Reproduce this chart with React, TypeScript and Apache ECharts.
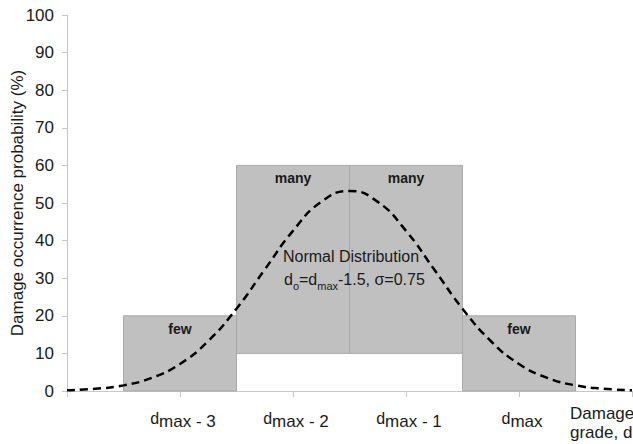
import React, { useEffect, useRef } from "react";
import * as echarts from "echarts";

// Grade positions: 1 = dmax-3, 2 = dmax-2, 3 = dmax-1, 4 = dmax
const tickLabels = ["", "dmax - 3", "dmax - 2", "dmax - 1", "dmax", ""];

// Boxes (damage occurrence ranges)
const boxStart = [0.5, 1.5, 2.5, 3.5];
const boxEnd = [1.5, 2.5, 3.5, 4.5];
const boxLow = [0, 10, 10, 0];
const boxHigh = [20, 60, 60, 20];
const boxLabel = ["few", "many", "many", "few"];

// Normal distribution curve
const curveX = [0, 0.25, 0.5, 0.75, 1, 1.25, 1.5, 1.75, 2, 2.25, 2.5, 2.75, 3, 3.25, 3.5, 3.75, 4, 4.25, 4.5, 4.75, 5];
const curveY = [0.2, 0.6, 1.5, 3.5, 7.2, 13.3, 21.9, 32.3, 42.6, 50.3, 53.2, 50.3, 42.6, 32.3, 21.9, 13.3, 7.2, 3.5, 1.5, 0.6, 0.2];

const FONT = "Arial, 'Liberation Sans', sans-serif";
const TXT = "#1a1a1a";

export default function App() {
  const ref = useRef<HTMLDivElement>(null);
  useEffect(() => {
    if (!ref.current) return;
    const chart = echarts.init(ref.current, null, { renderer: "svg" });
    const boxData = boxStart.map((s, i) => [s, boxEnd[i], boxLow[i], boxHigh[i], i]);
    chart.setOption({
      animation: false,
      backgroundColor: "#ffffff",
      grid: { left: 67, right: 1, top: 15, bottom: 53, containLabel: false, outerBoundsMode: "none" },
      xAxis: {
        type: "value",
        min: 0,
        max: 5,
        interval: 1,
        axisLine: { show: true, lineStyle: { color: "#c8c8c8", width: 1 } },
        axisTick: { show: true, length: 6, lineStyle: { color: "#c8c8c8" } },
        splitLine: { show: false },
        axisLabel: {
          margin: 19,
          color: TXT,
          fontSize: 16,
          fontFamily: FONT,
          formatter: (v: number) => {
            const t = tickLabels[Math.round(v)] || "";
            if (!t) return "";
            return "{d|d}{m|" + t.slice(1) + "}";
          },
          rich: {
            d: { fontSize: 16, fontFamily: FONT, color: TXT, padding: [0, 0, 3, 6] },
            m: { fontSize: 17, fontFamily: FONT, color: TXT, padding: [3, 0, 0, 0] },
          },
        },
      },
      yAxis: {
        type: "value",
        min: 0,
        max: 100,
        interval: 10,
        axisLine: { show: true, lineStyle: { color: "#c8c8c8", width: 1 } },
        axisTick: { show: true, length: 5, lineStyle: { color: "#c8c8c8" } },
        splitLine: { show: false },
        axisLabel: { margin: 13, color: TXT, fontSize: 17, fontFamily: FONT },
      },
      series: [
        {
          type: "custom",
          data: boxData,
          encode: { x: [0, 1], y: [2, 3] },
          renderItem: (params: any, api: any) => {
            const x0 = api.value(0), x1 = api.value(1), y0 = api.value(2), y1 = api.value(3);
            const idx = api.value(4);
            const p0 = api.coord([x0, y1]);
            const p1 = api.coord([x1, y0]);
            return {
              type: "group",
              children: [
                {
                  type: "rect",
                  shape: { x: p0[0], y: p0[1], width: p1[0] - p0[0], height: p1[1] - p0[1] },
                  style: { fill: "#c0c0c0", stroke: "#a9a9a9", lineWidth: 1 },
                },
                {
                  type: "text",
                  x: (p0[0] + p1[0]) / 2,
                  y: p0[1] + 13,
                  style: {
                    text: boxLabel[idx],
                    fill: TXT,
                    font: "bold 14px " + FONT,
                    align: "center",
                    verticalAlign: "middle",
                  },
                },
              ],
            };
          },
          z: 1,
        },
        {
          type: "line",
          data: curveX.map((x, i) => [x, curveY[i]]),
          smooth: true,
          symbol: "none",
          lineStyle: { color: "#000000", width: 2.5, type: [8, 5] },
          z: 3,
        },
      ],
      graphic: [
        {
          type: "text",
          x: 17,
          y: 203,
          rotation: Math.PI / 2,
          style: {
            text: "Damage occurrence probability (%)",
            fill: TXT,
            font: "17px " + FONT,
            align: "center",
            verticalAlign: "middle",
          },
          z: 10,
        },
        {
          type: "text",
          left: 283,
          top: 248,
          style: { text: "Normal Distribution", fill: TXT, font: "16px " + FONT },
          z: 10,
        },
        {
          type: "text",
          left: 284,
          top: 271,
          style: {
            text: "{n|d}{s|o}{n|=d}{s|max}{n|-1.5, σ=0.75}",
            rich: {
              n: { fontSize: 16, fontFamily: FONT, fill: TXT, color: TXT, lineHeight: 20, verticalAlign: "top" },
              s: { fontSize: 11, fontFamily: FONT, fill: TXT, color: TXT, lineHeight: 20, padding: [9, 0, 0, 0], verticalAlign: "top" },
            },
          },
          z: 10,
        },
        {
          type: "text",
          left: 570,
          top: 404,
          style: { text: "Damage\ngrade, d", fill: TXT, font: "17px " + FONT, lineHeight: 19 },
          z: 10,
        },
      ],
    });
    return () => chart.dispose();
  }, []);
  return <div ref={ref} style={{ position: "fixed", left: 0, top: 0, width: 633, height: 444 }} />;
}
